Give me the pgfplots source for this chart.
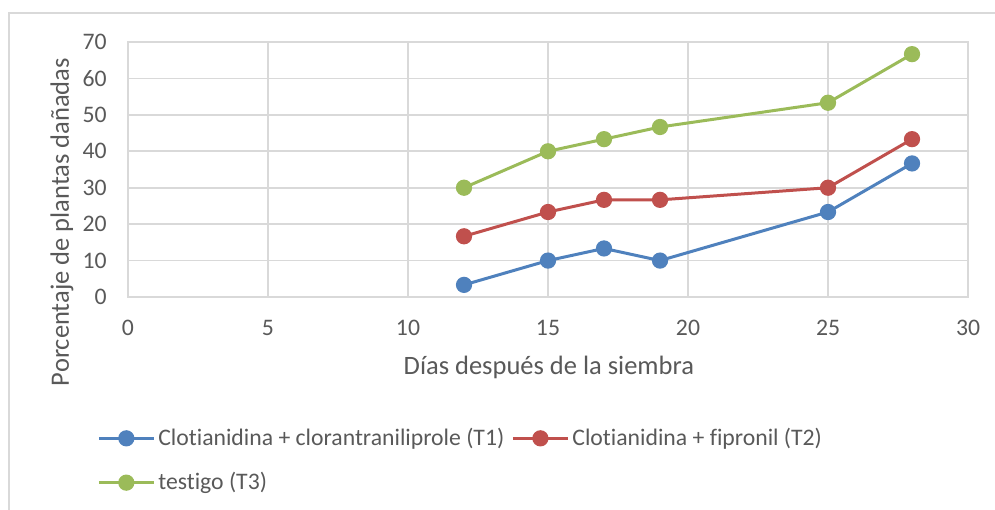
\documentclass[border=0pt]{standalone}
\usepackage{pgfplots}
\pgfplotsset{compat=1.18}
\usepackage{fontspec}
\setmainfont{Carlito}[Ligatures=NoCommon]
\definecolor{gridgray}{HTML}{D9D9D9}
\definecolor{txtgray}{HTML}{595959}
\definecolor{cA}{HTML}{4F81BD}
\definecolor{cB}{HTML}{C0504D}
\definecolor{cC}{HTML}{9BBB59}
\begin{document}
\begin{tikzpicture}[x=1bp,y=1bp]
\useasboundingbox (0,0) rectangle (497.5,254.5);
\draw[gridgray, line width=0.9bp] (4.5,-5) -- (4.5,248) -- (505,248);
\begin{axis}[
  at={(64bp,106bp)}, anchor=origin,
  scale only axis, width=420bp, height=127.5bp,
  xmin=0, xmax=30, ymin=0, ymax=70,
  xtick={0,5,...,30}, ytick={0,10,...,70},
  grid=major, grid style={gridgray, line width=0.8bp},
  axis line style={gridgray, line width=0.8bp},
  major tick length=0pt, tick style={draw=none},
  /pgf/number format/assume math mode=true,
  ticklabel style={font=\fontsize{11.9}{14}\selectfont, text=txtgray},
  xticklabel style={anchor=center, yshift=-15.5bp, inner sep=0pt},
  yticklabel style={anchor=east, xshift=-10.5bp, inner sep=0pt},
  xlabel={Días después de la siembra},
  ylabel={Porcentaje de plantas dañadas},
  label style={font=\fontsize{13.3}{16}\selectfont, text=txtgray},
  xlabel style={at={(axis description cs:0.501,-0.278)}, anchor=center},
  ylabel style={at={(axis description cs:-0.0786,0.294)}, anchor=center},
  every axis plot/.append style={line width=1.5bp, mark=*, mark size=3.3bp},
  legend columns=2,
  legend style={draw=none, fill=none, at={(axis description cs:-0.037,-0.501)}, anchor=north west,
    font=\fontsize{11.9}{14}\selectfont, text=txtgray, inner sep=0pt, row sep=9bp,
    nodes={inner sep=1.5bp}},
  legend cell align=left,
  /tikz/every even column/.append style={column sep=2bp},
  legend image code/.code={\draw[mark repeat=2, mark phase=2, #1] plot coordinates {(0bp,0bp) (13.75bp,0bp) (27.5bp,0bp)};},
]
\addplot[cA, mark options={fill=cA, draw=cA}] coordinates {(12,3.33) (15,10) (17,13.33) (19,10) (25,23.33) (28,36.67)};
\addlegendentry{Clotianidina + clorantraniliprole (T1)}
\addplot[cB, mark options={fill=cB, draw=cB}] coordinates {(12,16.67) (15,23.33) (17,26.67) (19,26.67) (25,30) (28,43.33)};
\addlegendentry{Clotianidina + fipronil (T2)}
\addplot[cC, mark options={fill=cC, draw=cC}] coordinates {(12,30) (15,40) (17,43.33) (19,46.67) (25,53.33) (28,66.67)};
\addlegendentry{testigo (T3)}
\end{axis}
\end{tikzpicture}
\end{document}
